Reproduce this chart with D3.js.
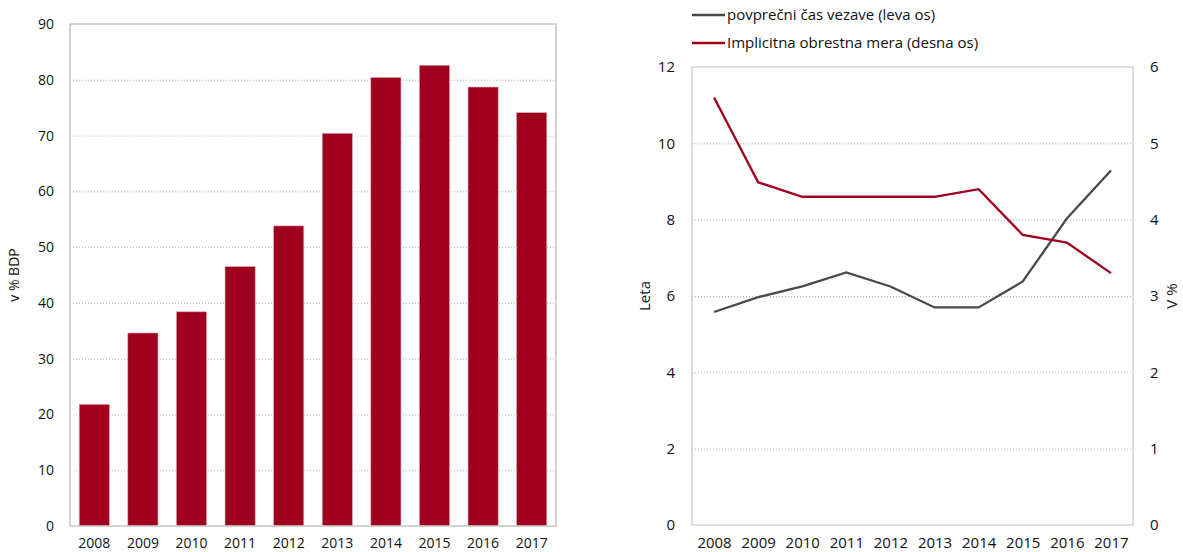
<!DOCTYPE html>
<html>
<head>
<meta charset="utf-8">
<script src="https://cdn.jsdelivr.net/npm/d3@7"></script>
<style>
  body { margin: 0; background: #fff; }
  text { font-family: "Open Sans", "Liberation Sans", sans-serif; fill: #111; }
</style>
</head>
<body>
<div id="chart-area"></div>
<script>
// data
const years = ["2008", "2009", "2010", "2011", "2012", "2013", "2014", "2015", "2016", "2017"]
const debtShare = [21.8, 34.6, 38.4, 46.5, 53.8, 70.4, 80.4, 82.6, 78.7, 74.1]
const avgMaturity = [5.58, 5.97, 6.25, 6.62, 6.25, 5.70, 5.70, 6.38, 8.03, 9.29]
const impliedRate = [5.60, 4.49, 4.30, 4.30, 4.30, 4.30, 4.40, 3.80, 3.70, 3.30]
const leftTicks = [0, 10, 20, 30, 40, 50, 60, 70, 80, 90]
const yearTicks = [0, 2, 4, 6, 8, 10, 12]
const rateTicks = [0, 1, 2, 3, 4, 5, 6]
const legendLabels = ["povprečni čas vezave (leva os)", "Implicitna obrestna mera (desna os)"]

const RED = "#9e001d"
const GREY = "#4a4a4a"

const svg = d3.select("#chart-area").append("svg")
  .attr("width", 1183)
  .attr("height", 552)

// ---------- left chart: bars ----------
const L = { LEFT: 70, RIGHT: 556, TOP: 24, BOTTOM: 526 }

const x1 = d3.scaleBand()
  .domain(years)
  .range([L.LEFT, L.RIGHT])
  .paddingInner(0.38)
  .paddingOuter(0.19)

const y1 = d3.scaleLinear()
  .domain([0, 90])
  .range([L.BOTTOM, L.TOP])

// gridlines
svg.append("g")
  .attr("transform", `translate(${L.LEFT}, 0)`)
  .call(d3.axisLeft(y1).tickValues(leftTicks.slice(1, -1)).tickSize(-(L.RIGHT - L.LEFT)).tickFormat(""))
  .call(g => g.select(".domain").remove())
  .selectAll("line")
    .attr("stroke", "#b5b5b5")
    .attr("stroke-dasharray", "1,2")

svg.append("g").selectAll("rect")
  .data(debtShare)
  .enter().append("rect")
    .attr("x", (d, i) => x1(years[i]))
    .attr("y", d => y1(d))
    .attr("width", x1.bandwidth())
    .attr("height", d => L.BOTTOM - y1(d))
    .attr("fill", RED)
    .attr("stroke", "#d9a3ad")
    .attr("stroke-width", 0.6)

// frame
svg.append("rect")
  .attr("x", L.LEFT)
  .attr("y", L.TOP)
  .attr("width", L.RIGHT - L.LEFT)
  .attr("height", L.BOTTOM - L.TOP)
  .attr("fill", "none")
  .attr("stroke", "#c9c9c9")
  .attr("stroke-width", 1.6)

// y axis labels
svg.append("g")
  .attr("transform", `translate(${L.LEFT}, 0)`)
  .call(d3.axisLeft(y1).tickValues(leftTicks).tickSize(0).tickPadding(16))
  .call(g => g.select(".domain").remove())
  .selectAll("text")
    .attr("font-size", "14px")

// x axis labels
svg.append("g")
  .attr("transform", `translate(0, ${L.BOTTOM})`)
  .call(d3.axisBottom(x1).tickSize(0).tickPadding(12))
  .call(g => g.select(".domain").remove())
  .selectAll("text")
    .attr("font-size", "14px")

svg.append("text")
  .attr("transform", "translate(19, 275) rotate(-90)")
  .attr("text-anchor", "middle")
  .attr("font-size", "14px")
  .text("v % BDP")

// ---------- right chart: lines ----------
const R = { LEFT: 692, RIGHT: 1133, TOP: 67, BOTTOM: 525 }

const x2 = d3.scalePoint()
  .domain(years)
  .range([R.LEFT, R.RIGHT])
  .padding(0.5)

const yL = d3.scaleLinear().domain([0, 12]).range([R.BOTTOM, R.TOP])
const yR = d3.scaleLinear().domain([0, 6]).range([R.BOTTOM, R.TOP])

svg.append("g")
  .attr("transform", `translate(${R.LEFT}, 0)`)
  .call(d3.axisLeft(yL).tickValues(yearTicks.slice(1, -1)).tickSize(-(R.RIGHT - R.LEFT)).tickFormat(""))
  .call(g => g.select(".domain").remove())
  .selectAll("line")
    .attr("stroke", "#b5b5b5")
    .attr("stroke-dasharray", "1,2")

svg.append("rect")
  .attr("x", R.LEFT)
  .attr("y", R.TOP)
  .attr("width", R.RIGHT - R.LEFT)
  .attr("height", R.BOTTOM - R.TOP)
  .attr("fill", "none")
  .attr("stroke", "#c9c9c9")
  .attr("stroke-width", 1.2)

const lineL = d3.line()
  .x((d, i) => x2(years[i]))
  .y(d => yL(d))

const lineR = d3.line()
  .x((d, i) => x2(years[i]))
  .y(d => yR(d))

svg.append("path")
  .datum(avgMaturity)
  .attr("d", lineL)
  .attr("fill", "none")
  .attr("stroke", GREY)
  .attr("stroke-width", 2.3)

svg.append("path")
  .datum(impliedRate)
  .attr("d", lineR)
  .attr("fill", "none")
  .attr("stroke", RED)
  .attr("stroke-width", 2.3)

svg.append("g")
  .attr("transform", `translate(${R.LEFT}, 0)`)
  .call(d3.axisLeft(yL).tickValues(yearTicks).tickSize(0).tickPadding(17))
  .call(g => g.select(".domain").remove())
  .selectAll("text")
    .attr("font-size", "15px")

svg.append("g")
  .attr("transform", `translate(${R.RIGHT}, 0)`)
  .call(d3.axisRight(yR).tickValues(rateTicks).tickSize(0).tickPadding(17).tickFormat(d3.format("d")))
  .call(g => g.select(".domain").remove())
  .selectAll("text")
    .attr("font-size", "15px")

svg.append("g")
  .attr("transform", `translate(0, ${R.BOTTOM})`)
  .call(d3.axisBottom(x2).tickSize(0).tickPadding(12))
  .call(g => g.select(".domain").remove())
  .selectAll("text")
    .attr("font-size", "15px")

svg.append("text")
  .attr("transform", "translate(650, 296) rotate(-90)")
  .attr("text-anchor", "middle")
  .attr("font-size", "15px")
  .text("Leta")

svg.append("text")
  .attr("transform", "translate(1177, 296) rotate(-90)")
  .attr("text-anchor", "middle")
  .attr("font-size", "15px")
  .text("V %")

// legend
const legend = svg.append("g")
  .selectAll("g")
  .data(legendLabels)
  .enter().append("g")
    .attr("transform", (d, i) => `translate(692, ${15 + i * 28})`)

legend.append("line")
  .attr("x1", 0)
  .attr("x2", 33)
  .attr("stroke", (d, i) => i === 0 ? GREY : RED)
  .attr("stroke-width", 2.3)

legend.append("text")
  .attr("x", 35)
  .attr("dy", "0.35em")
  .attr("font-size", "15px")
  .text(d => d)
</script>
</body>
</html>
